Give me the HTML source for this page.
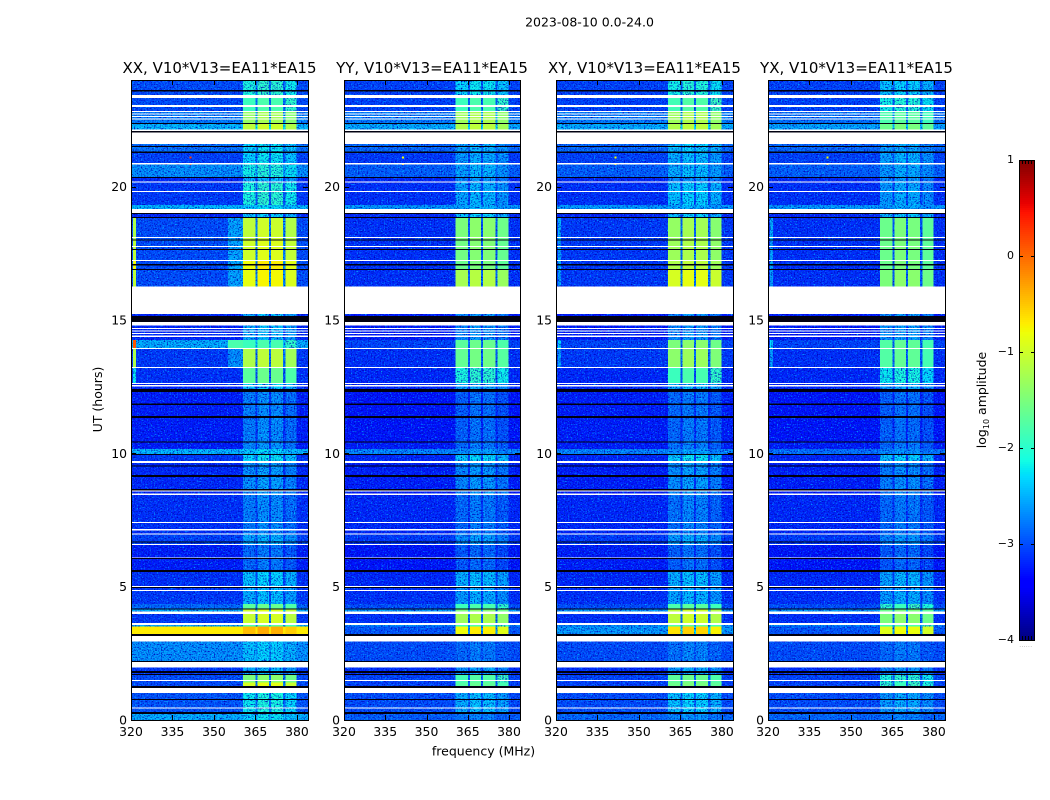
<!DOCTYPE html>
<html lang="en">
<head>
<meta charset="utf-8">
<title>2023-08-10 dynamic spectra</title>
<style>
  html, body { margin: 0; padding: 0; background: #fff; }
  svg { display: block; }
  text { font-family: "DejaVu Sans", "Liberation Sans", sans-serif; fill: #000; }
  .tick { font-size: 12.4px; }
  .ttl { font-size: 15px; }
  .lbl { font-size: 12.5px; }
</style>
</head>
<body>
<svg id="chart" xmlns="http://www.w3.org/2000/svg" width="1050" height="800" viewBox="0 0 1050 800">
  <defs>
    <filter id="speckle-dark-filter" x="0" y="0" width="100%" height="100%" color-interpolation-filters="sRGB">
      <feTurbulence type="fractalNoise" baseFrequency="0.7" numOctaves="2" seed="3" result="n"/>
      <feColorMatrix in="n" result="dark" type="matrix" values="0 0 0 0 0  0 0 0 0 0  0 0 0 0 0.72  0 3.2 0 0 -1.55"/>
      <feComposite in="dark" in2="SourceAlpha" operator="in"/>
    </filter>
    <filter id="speckle-light-filter" x="0" y="0" width="100%" height="100%" color-interpolation-filters="sRGB">
      <feTurbulence type="fractalNoise" baseFrequency="0.7" numOctaves="2" seed="11" result="n"/>
      <feColorMatrix in="n" result="light" type="matrix" values="0 0 0 0 0  2.2 0 0 0 -1.2  0 0 0 0 0  0 0 0 0 1"/>
      <feComposite in="light" in2="SourceAlpha" operator="in"/>
    </filter>
  </defs>
  <rect width="1050" height="800" fill="#fff"/>
  <text x="589.5" y="26.5" text-anchor="middle" class="lbl">2023-08-10 0.0-24.0</text>
  <text x="483.5" y="755.5" text-anchor="middle" class="lbl">frequency (MHz)</text>
  <text x="0" y="0" transform="translate(102,399.5) rotate(-90)" text-anchor="middle" class="lbl">UT (hours)</text>
  <text x="0" y="0" transform="translate(986,400) rotate(-90)" text-anchor="middle" class="lbl">log<tspan font-size="8" dy="3">10</tspan><tspan dy="-3"> amplitude</tspan></text>
  <g id="panels" style="isolation:isolate"></g>
  <g id="colorbar"></g>
</svg>
<script>
// Category / axis values
const panelTitles = ['XX', 'YY', 'XY', 'YX'];
const baselineLabel = ', V10*V13=EA11*EA15';
const freqTicks = [320, 335, 350, 365, 380];
const hourTicks = [0, 5, 10, 15, 20];
const cbarTicks = [-4, -3, -2, -1, 0, 1];

// Frequency channels (MHz) and the kind of each channel block
const freqEdges = [320, 320.7, 321.8, 355, 360.5, 365, 365.8, 369.9, 370.6, 375, 375.9, 379.8, 384];
const freqKinds = ['bg', 'edge', 'bg', 'mid', 'band', 'notch', 'band', 'notch', 'band', 'notch', 'band', 'bg'];

// Time segments (UT hours, top edge of each, last entry closes the axis)
const levelTops = [
  24.00, 23.33, 22.84, 22.35, 21.60, 21.31, 20.88, 20.37, 20.15, 19.31,
  19.01, 18.83, 17.98, 17.25, 16.91, 15.23, 14.25, 13.95, 13.24, 12.64,
  12.30, 10.41, 10.16, 9.93, 9.71, 8.42, 6.96, 6.56, 5.55, 5.03,
  4.35, 4.14, 3.98, 3.56, 3.50, 2.95, 1.96, 1.69, 1.40, 1.01,
  0.23, 0
];

// log10 amplitude per time segment: off-band background and in-band level
const bgXX = [
  -3.0, -3.0, -2.75, -2.45, -2.8, -3.05, -2.65, -3.2, -3.1, -2.45,
  -3.2, -3.0, -3.0, -3.0, -3.0, -3.2, -2.5, -3.1, -3.15, -3.2,
  -3.25, -3.25, -2.45, -3.1, -3.2, -3.15, -3.05, -3.25, -3.15, -3.1,
  -2.85, -2.5, -3.1, -2.5, -0.7, -2.65, -3.1, -3.0, -3.0, -2.95, -2.5
];
const bandXX = [
  -2.1, -1.9, -1.35, -1.1, -2.3, -2.3, -2.15, -2.5, -2.1, -2.35,
  -2.4, -1.1, -1.0, -0.8, -0.85, -2.5, -1.9, -1.2, -1.7, -2.4,
  -2.75, -2.7, -2.35, -2.3, -2.65, -2.75, -2.55, -2.85, -2.4, -2.5,
  -1.7, -1.0, -1.05, -1.8, -0.45, -2.4, -2.5, -1.5, -0.95, -2.2, -2.3
];
const bgYY = [
  -3.05, -3.05, -2.75, -2.5, -2.85, -3.1, -2.9, -3.2, -3.15, -2.6,
  -3.2, -3.15, -3.15, -3.15, -3.15, -3.25, -3.05, -3.15, -3.2, -3.2,
  -3.3, -3.25, -2.7, -3.2, -3.25, -3.2, -3.1, -3.3, -3.2, -3.15,
  -3.0, -2.6, -3.15, -2.7, -2.95, -3.0, -3.15, -3.05, -3.05, -3.0, -2.9
];
const bandYY = [
  -2.3, -1.9, -1.3, -1.2, -2.55, -2.6, -2.55, -2.7, -2.55, -2.55,
  -2.4, -1.5, -1.55, -1.6, -1.25, -2.7, -1.7, -1.65, -2.1, -2.6,
  -2.9, -2.85, -2.65, -2.35, -2.7, -2.85, -2.65, -2.95, -2.5, -2.6,
  -1.9, -1.5, -1.3, -1.9, -0.8, -2.85, -2.65, -1.85, -1.75, -2.5, -2.8
];
const bgXY = [
  -3.05, -3.05, -2.75, -2.5, -2.85, -3.05, -2.9, -3.2, -3.15, -2.6,
  -3.2, -3.1, -3.1, -3.1, -3.1, -3.25, -3.05, -3.1, -3.2, -3.2,
  -3.25, -3.25, -2.7, -3.2, -3.25, -3.2, -3.1, -3.25, -3.2, -3.15,
  -3.0, -2.6, -3.15, -2.7, -2.6, -3.0, -3.15, -3.05, -3.05, -3.0, -2.85
];
const bandXY = [
  -2.15, -1.85, -1.3, -1.2, -2.4, -2.5, -2.5, -2.7, -2.4, -2.55,
  -2.4, -1.35, -1.3, -1.2, -0.95, -2.7, -1.5, -1.4, -1.9, -2.5,
  -2.85, -2.8, -2.65, -2.3, -2.65, -2.8, -2.6, -2.9, -2.5, -2.55,
  -1.8, -1.1, -1.1, -1.8, -0.65, -2.8, -2.6, -1.7, -1.6, -2.4, -2.7
];
const bgYX = [
  -3.05, -3.05, -2.8, -2.55, -2.85, -3.05, -2.9, -3.2, -3.15, -2.6,
  -3.2, -3.15, -3.15, -3.15, -3.15, -3.25, -3.05, -3.15, -3.2, -3.2,
  -3.3, -3.25, -2.8, -3.2, -3.25, -3.2, -3.1, -3.3, -3.2, -3.15,
  -3.0, -2.6, -3.15, -2.7, -2.95, -3.0, -3.15, -3.05, -3.05, -3.0, -2.85
];
const bandYX = [
  -2.4, -2.15, -1.8, -1.6, -2.6, -2.55, -2.6, -2.7, -2.6, -2.6,
  -2.45, -1.6, -1.6, -1.6, -1.5, -2.65, -1.75, -1.75, -2.2, -2.6,
  -2.9, -2.85, -2.7, -2.4, -2.75, -2.85, -2.7, -2.95, -2.55, -2.6,
  -2.0, -1.6, -1.5, -1.9, -0.9, -2.85, -2.7, -2.1, -2.0, -2.6, -2.8
];
// XX-only features: hot low-frequency edge and the 355-360 MHz shoulder (null = background)
const edgeXX = [
  null, null, null, null, null, null, null, null, null, null,
  null, -1.2, -1.1, -0.8, -1.1, null, 0.1, -1.2, -2.2, null,
  null, null, null, null, null, null, null, null, null, null,
  null, null, null, null, null, null, null, null, null, null, null
];
const midXX = [
  null, null, null, null, null, null, null, null, null, null,
  null, -2.55, -2.55, -2.5, -2.55, null, -1.8, -2.65, null, null,
  null, null, null, null, null, null, null, null, null, null,
  null, null, null, null, null, null, null, null, null, null, null
];
// Weaker low-frequency edge seen in the XY and YX panels
const edgeCross = [
  null, null, null, null, null, null, null, null, null, null,
  null, -2.5, -2.6, -2.5, -2.6, null, -2.3, -2.6, null, null,
  null, null, null, null, null, null, null, null, null, null,
  null, null, null, null, null, null, null, null, null, null, null
];
// Brightness offset of the four receiver sub-bands, in log10 amplitude
const subbandOffset = [0, 0.1, 0.08, -0.08];

// Blank (no data) and dead (black) time intervals: [top hour, bottom hour]
const gapIntervals = [
  [23.44, 23.33], [23.06, 22.99], [22.84, 22.80], [22.74, 22.71], [22.65, 22.62], [22.56, 22.52],
  [22.15, 22.09], [22.04, 21.60], [20.88, 20.84], [20.19, 20.15], [19.84, 19.80], [19.16, 19.01],
  [18.12, 18.09], [17.78, 17.73], [17.25, 17.21], [16.25, 15.23], [14.93, 14.79], [14.70, 14.66],
  [14.61, 14.57], [14.51, 14.48], [14.41, 14.37], [13.95, 13.91], [13.24, 13.20], [12.64, 12.60],
  [12.56, 12.51], [9.71, 9.64], [8.60, 8.56], [8.49, 8.43], [7.43, 7.39],
  [7.16, 7.11], [6.99, 6.96], [6.60, 6.56], [6.09, 6.07], [5.03, 4.99], [4.88, 4.84],
  [4.06, 3.98], [3.64, 3.56], [3.15, 2.95], [2.19, 1.96], [1.50, 1.46], [1.20, 1.01], [0.47, 0.43]
];
const deadIntervals = [
  [23.63, 23.57], [22.39, 22.35], [22.09, 22.04], [21.53, 21.48], [21.31, 21.27], [20.37, 20.33],
  [19.01, 18.98], [18.86, 18.83], [18.02, 17.98], [17.66, 17.63], [17.10, 17.04], [16.91, 16.88],
  [15.15, 14.93], [12.41, 12.30], [11.87, 11.81], [11.40, 11.33], [10.44, 10.41], [9.98, 9.93],
  [9.54, 9.53], [9.19, 9.12], [8.66, 8.61], [6.69, 6.66], [6.07, 6.04], [5.63, 5.55],
  [4.99, 4.96], [4.19, 4.16], [3.23, 3.15], [2.21, 2.19], [1.84, 1.77], [1.73, 1.69],
  [1.28, 1.20], [0.79, 0.76], [0.30, 0.23]
];
// Narrow-band interference spots: [panel index, MHz, hour, log10 amplitude]
const rfiSpots = [
  [0, 341.5, 21.1, 0.2], [0, 341.5, 20.85, 0.2], [1, 341.5, 21.1, -0.8], [1, 341.5, 20.85, -0.5],
  [2, 341.5, 21.1, -0.8], [2, 341.5, 20.85, -0.6], [3, 341.5, 21.1, -0.8], [3, 341.5, 20.85, -0.6]
];

const bgSeries = [bgXX, bgYY, bgXY, bgYX];
const bandSeries = [bandXX, bandYY, bandXY, bandYX];

const SVGNS = 'http://www.w3.org/2000/svg';
const plotTop = 80, plotBottom = 720;
const panelLefts = [131, 344, 556, 768];
const panelWidths = [177, 176, 177, 177];
const speckleLimit = -1.9;

function node(tag, attrs, parent) {
  const el = document.createElementNS(SVGNS, tag);
  for (const k in attrs) el.setAttribute(k, attrs[k]);
  parent.appendChild(el);
  return el;
}
function lerpStops(stops, t) {
  for (let i = 1; i < stops.length; i++) {
    if (t <= stops[i][0]) {
      const a = stops[i - 1], b = stops[i];
      return a[1] + (b[1] - a[1]) * (t - a[0]) / (b[0] - a[0]);
    }
  }
  return stops[stops.length - 1][1];
}
function jet(t) {
  t = Math.max(0, Math.min(1, t));
  const r = lerpStops([[0, 0], [0.35, 0], [0.66, 1], [0.89, 1], [1, 0.5]], t);
  const g = lerpStops([[0, 0], [0.125, 0], [0.375, 1], [0.64, 1], [0.91, 0], [1, 0]], t);
  const b = lerpStops([[0, 0.5], [0.11, 1], [0.34, 1], [0.65, 0], [1, 0]], t);
  return 'rgb(' + Math.round(r * 255) + ',' + Math.round(g * 255) + ',' + Math.round(b * 255) + ')';
}
function ampColor(v) { return jet((v + 4) / 5); }
function yScale(h) { return plotTop + (24 - h) / 24 * (plotBottom - plotTop); }

const panelsRoot = document.getElementById('panels');
panelTitles.forEach(function (pol, p) {
  const left = panelLefts[p], width = panelWidths[p];
  const xScale = function (f) { return left + (f - 320) / 64 * width; };
  const g = node('g', {}, panelsRoot);
  
  

  const title = node('text', { x: left + width / 2, y: 73, 'text-anchor': 'middle', class: 'ttl' }, g);
  
  
  title.textContent = pol + baselineLabel;

  const cells = node('g', { 'shape-rendering': 'crispEdges' }, g);
  
  
  const speckLight = node('g', { 'shape-rendering': 'crispEdges', filter: 'url(#speckle-light-filter)', style: 'mix-blend-mode:screen' }, g);
  
  
  const speckDark = node('g', { 'shape-rendering': 'crispEdges', filter: 'url(#speckle-dark-filter)' }, g);
  
  
  const bg = bgSeries[p], band = bandSeries[p];
  for (let r = 0; r < levelTops.length - 1; r++) {
    let sub = 0;
    for (let c = 0; c < freqKinds.length; c++) {
      const kind = freqKinds[c];
      let v = bg[r];
      if (kind === 'band') { v = band[r] + subbandOffset[sub]; sub++; }
      else if (kind === 'notch') { v = bg[r] + 0.15 * (band[r] - bg[r]); }
      else if (kind === 'edge' && p === 0 && edgeXX[r] !== null) { v = edgeXX[r]; }
      else if (kind === 'edge' && p >= 2 && edgeCross[r] !== null) { v = edgeCross[r]; }
      else if (kind === 'mid' && p === 0 && midXX[r] !== null) { v = midXX[r]; }
      const x0 = xScale(freqEdges[c]), x1 = xScale(freqEdges[c + 1]);
      const y0 = yScale(levelTops[r]), y1 = yScale(levelTops[r + 1]);
      const cell = node('rect', { x: x0, y: y0, width: x1 - x0, height: y1 - y0, fill: ampColor(v) }, cells);
      
      
      if (v < speckleLimit) {
        const m1 = node('rect', { x: x0, y: y0, width: x1 - x0, height: y1 - y0, fill: '#000' }, speckLight);
        
        
        const m2 = node('rect', { x: x0, y: y0, width: x1 - x0, height: y1 - y0, fill: '#000' }, speckDark);
        
        
      }
    }
  }

  rfiSpots.filter(function (s) { return s[0] === p; }).forEach(function (s) {
    const spot = node('rect', { x: xScale(s[1]) - 1, y: yScale(s[2]) - 1, width: 2, height: 2, fill: ampColor(s[3]), 'shape-rendering': 'crispEdges' }, g);
    
    
  });

  const flags = node('g', { 'shape-rendering': 'crispEdges' }, g);
  
  
  gapIntervals.forEach(function (iv) {
    const y0 = yScale(iv[0]), y1 = yScale(iv[1]);
    const gap = node('rect', { x: left, y: y0, width: width, height: Math.max(1, y1 - y0), fill: '#fff' }, flags);
    
    
  });
  deadIntervals.forEach(function (iv) {
    const y0 = yScale(iv[0]), y1 = yScale(iv[1]);
    const dead = node('rect', { x: left, y: y0, width: width, height: Math.max(1, y1 - y0), fill: '#000010' }, flags);
    
    
  });

  const frame = node('rect', { x: left + 0.5, y: plotTop + 0.5, width: width, height: plotBottom - plotTop, fill: 'none', stroke: '#000', 'stroke-width': 1 }, g);
  
  

  freqTicks.forEach(function (f) {
    const x = Math.round(xScale(f)) + 0.5;
    const t1 = node('line', { x1: x, x2: x, y1: plotBottom, y2: plotBottom - 5, stroke: '#000' }, g);
    
    
    const t2 = node('line', { x1: x, x2: x, y1: plotTop, y2: plotTop + 5, stroke: '#000' }, g);
    
    
    const lab = node('text', { x: xScale(f), y: 736, 'text-anchor': 'middle', class: 'tick' }, g);
    
    
    lab.textContent = f;
  });
  hourTicks.forEach(function (h) {
    const y = Math.round(yScale(h)) + 0.5;
    const t1 = node('line', { x1: left, x2: left + 5, y1: y, y2: y, stroke: '#000' }, g);
    
    
    const t2 = node('line', { x1: left + width, x2: left + width - 5, y1: y, y2: y, stroke: '#000' }, g);
    
    
    const lab = node('text', { x: left - 4, y: yScale(h) + 4.5, 'text-anchor': 'end', class: 'tick' }, g);
    
    
    lab.textContent = h;
  });
});

// Colorbar
const cbRoot = document.getElementById('colorbar');
const cbLeft = 1019, cbWidth = 16, cbTop = 160, cbBottom = 640;
function cbY(v) { return cbBottom - (v + 4) / 5 * (cbBottom - cbTop); }
const cbSwatches = node('g', { 'shape-rendering': 'crispEdges' }, cbRoot);


for (let py = cbTop; py < cbBottom; py += 2) {
  const v = -4 + (cbBottom - py - 1) / (cbBottom - cbTop) * 5;
  const s = node('rect', { x: cbLeft, y: py, width: cbWidth, height: 2, fill: ampColor(v) }, cbSwatches);
  
  
}
const cbFrame = node('rect', { x: cbLeft + 0.5, y: cbTop + 0.5, width: cbWidth - 1, height: cbBottom - cbTop, fill: 'none', stroke: '#000' }, cbRoot);


cbarTicks.forEach(function (v) {
  const y = Math.round(cbY(v)) + 0.5;
  const t1 = node('line', { x1: cbLeft, x2: cbLeft + 4, y1: y, y2: y, stroke: '#000' }, cbRoot);
  
  
  const t2 = node('line', { x1: cbLeft + cbWidth - 4, x2: cbLeft + cbWidth, y1: y, y2: y, stroke: '#000' }, cbRoot);
  
  
  const lab = node('text', { x: cbLeft - 5, y: cbY(v) + 3, 'text-anchor': 'end', style: 'font-size:11px' }, cbRoot);
  
  
  lab.textContent = v < 0 ? '\u2212' + Math.abs(v) : String(v);
});
for (let mx = cbLeft + 3; mx < cbLeft + cbWidth - 2; mx += 3) {
  const mTop = node('line', { x1: mx + 0.5, x2: mx + 0.5, y1: cbTop, y2: cbTop + 4, stroke: '#000' }, cbRoot);
  
  
  const mBot = node('line', { x1: mx + 0.5, x2: mx + 0.5, y1: cbBottom - 4, y2: cbBottom, stroke: '#000' }, cbRoot);
  
  
}
const cbDots = node('text', { x: cbLeft + cbWidth / 2 - 1, y: 647, 'text-anchor': 'middle', style: 'font-size:5px;fill:#777;letter-spacing:0.6px' }, cbRoot);


cbDots.textContent = '......';
</script>
</body>
</html>
